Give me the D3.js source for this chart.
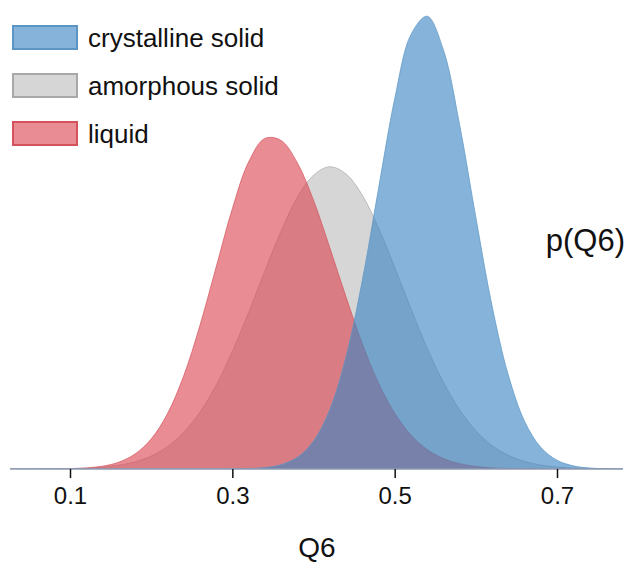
<!DOCTYPE html>
<html>
<head>
<meta charset="utf-8">
<script src="https://cdn.jsdelivr.net/npm/d3@7"></script>
<style>
    body { margin: 0; background: #fff; }
    text { font-family: "Liberation Sans", Arial, Helvetica, sans-serif; fill: #111; }
</style>
</head>
<body>
<svg id="chart" width="627" height="565"></svg>
<script>
// Q6 grid the densities were read at
const q6 = [0.02, 0.04, 0.06, 0.08, 0.10, 0.12, 0.14, 0.16, 0.18, 0.20,
    0.22, 0.24, 0.26, 0.28, 0.30, 0.32, 0.34, 0.36, 0.38, 0.40,
    0.42, 0.44, 0.46, 0.48, 0.50, 0.52, 0.54, 0.56, 0.58, 0.60,
    0.62, 0.64, 0.66, 0.68, 0.70, 0.72, 0.74, 0.76, 0.78, 0.80];

const crystalline = [0, 0, 0, 0, 0, 0, 0, 0, 0, 0,
    0, 0, 0, 0, 0.002, 0.006, 0.022, 0.066, 0.177, 0.424,
    0.902, 1.705, 2.86, 4.26, 5.63, 6.61, 6.89, 6.38, 5.24, 3.83,
    2.48, 1.43, 0.728, 0.330, 0.133, 0.048, 0.015, 0.004, 0.001, 0];

const amorphous = [0, 0, 0.001, 0.0025, 0.006, 0.013, 0.028, 0.057, 0.108, 0.196,
    0.339, 0.555, 0.862, 1.274, 1.788, 2.38, 3.01, 3.62, 4.13, 4.47,
    4.60, 4.49, 4.17, 3.67, 3.07, 2.44, 1.84, 1.32, 0.90, 0.581,
    0.357, 0.208, 0.115, 0.060, 0.030, 0.014, 0.006, 0.003, 0.001, 0];

const liquid = [0, 0, 0.0005, 0.0018, 0.0057, 0.016, 0.043, 0.103, 0.227, 0.456,
    0.839, 1.414, 2.18, 3.07, 3.96, 4.67, 5.03, 5.00, 4.66, 4.09,
    3.37, 2.62, 1.91, 1.31, 0.850, 0.517, 0.296, 0.159, 0.081, 0.0385,
    0.017, 0.007, 0.003, 0.001, 0.0004, 0, 0, 0, 0, 0];

const xTicks = [0.1, 0.3, 0.5, 0.7];

const seriesNames = ["crystalline solid", "amorphous solid", "liquid"];

// drawing order: grey at the back, blue on top
const series = [
    { name: "amorphous solid", values: amorphous, fill: "#bdbdbd", stroke: "#a8a8a8" },
    { name: "liquid", values: liquid, fill: "#db4650", stroke: "#d4525c" },
    { name: "crystalline solid", values: crystalline, fill: "#3a84c1", stroke: "#5b95c4" },
];

const baseY = 469;

const svg = d3.select("#chart");

const x = d3.scaleLinear().domain([0.1, 0.7]).range([70, 557]);
const y = d3.scaleLinear().domain([0, 7]).range([baseY, 9]);

const curve = d3.curveCatmullRom.alpha(0.5);

const area = d3.area()
    .x((d, i) => x(q6[i]))
    .y0(baseY)
    .y1(d => y(d))
    .curve(curve);

const line = d3.line()
    .x((d, i) => x(q6[i]))
    .y(d => y(d))
    .curve(curve);

svg.append("clipPath").attr("id", "plotClip")
    .append("rect")
    .attr("x", 10).attr("y", 0)
    .attr("width", 613).attr("height", baseY);

const plot = svg.append("g").attr("clip-path", "url(#plotClip)");

series.forEach(s => {
    plot.append("path")
        .attr("d", area(s.values))
        .attr("fill", s.fill)
        .attr("fill-opacity", 0.62);
    plot.append("path")
        .attr("d", line(s.values))
        .attr("fill", "none")
        .attr("stroke", s.stroke)
        .attr("stroke-opacity", 0.7)
        .attr("stroke-width", 1);
});

// baseline
svg.append("line")
    .attr("x1", 10).attr("x2", 623)
    .attr("y1", baseY).attr("y2", baseY)
    .attr("stroke", "#8d9bb2")
    .attr("stroke-width", 1.5);

// x axis ticks and labels
const axis = svg.append("g")
    .attr("transform", `translate(0,${baseY})`)
    .call(d3.axisBottom(x).tickValues(xTicks).tickSize(9).tickPadding(9).tickFormat(d3.format(".1f")));
axis.select(".domain").remove();
axis.selectAll(".tick line").attr("stroke", "#111").attr("stroke-width", 1.5);
axis.selectAll(".tick text")
    .style("font-size", "24px")
    .attr("fill", "#111");

// axis titles
svg.append("text")
    .attr("x", 317).attr("y", 557)
    .attr("text-anchor", "middle")
    .style("font-size", "28px")
    .text("Q6");

svg.append("text")
    .attr("x", 625).attr("y", 251)
    .attr("text-anchor", "end")
    .style("font-size", "31px")
    .text("p(Q6)");

// legend
const colorOf = name => series.find(s => s.name === name);
const legend = svg.append("g");
seriesNames.forEach((name, i) => {
    const s = colorOf(name);
    const g = legend.append("g").attr("transform", `translate(13,${26 + i * 48})`);
    g.append("rect")
        .attr("width", 64).attr("height", 23)
        .attr("fill", s.fill).attr("fill-opacity", 0.62)
        .attr("stroke", s.stroke).attr("stroke-width", 2);
    g.append("text")
        .attr("x", 75).attr("y", 12)
        .attr("dy", "0.35em")
        .style("font-size", "26px")
        .text(name);
});
</script>
</body>
</html>
